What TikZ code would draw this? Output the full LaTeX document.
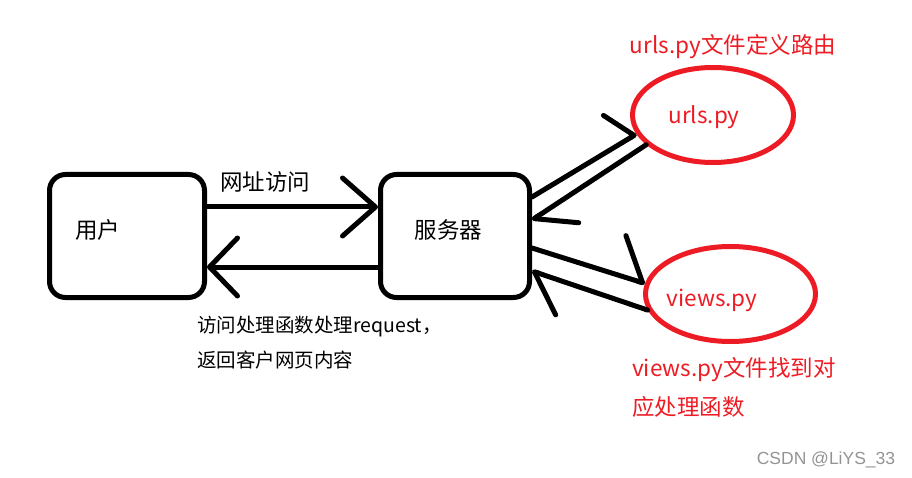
\documentclass[tikz,border=0pt]{standalone}
\usepackage{fontspec}
\setmainfont{Noto Sans CJK SC}
\newfontfamily\wmfont{Liberation Sans}
\usetikzlibrary{shapes.geometric,arrows.meta}
\definecolor{pred}{RGB}{237,28,36}
\begin{document}
\begin{tikzpicture}[
    x=1pt, y=-1pt,
    every node/.style={font=\fontsize{22.5}{27}\selectfont, inner sep=0pt},
    box/.style={
        draw, line width=5pt,
        rounded corners=16pt,
        minimum width=155pt, minimum height=123pt
    },
    filenode/.style={ellipse, draw=pred, line width=5pt},
    flow/.style={line width=5pt, line cap=round},
    redlbl/.style={text=pred},
    notelbl/.style={font=\fontsize{19.5}{35}\selectfont, anchor=west, align=left},
    rednote/.style={text=pred, font=\fontsize{22.5}{39}\selectfont, anchor=west, align=left}
]
\useasboundingbox (0,0) rectangle (912,478);

% =========================================================
% Kaesten: Benutzer und Server
% =========================================================
\node[box] (user) at (127,236) {};
\node (usertxt) at ([xshift=-29.5pt, yshift=6pt]user.center) {用户};

\node[box, minimum width=149pt] (server) at (455,236) {};
\node (servertxt) at ([xshift=-6.5pt, yshift=6pt]server.center) {服务器};

% Anfrage und Antwort
\draw[flow, -{Straight Barb[length=33pt, width=58pt, round]}]
    ([yshift=29pt]user.east) -- ([yshift=29pt]server.west);
\node (req) at (265,182) {网址访问};

\draw[flow, -{Straight Barb[length=28pt, width=58pt, round]}]
    ([yshift=-31pt]server.west) -- ([yshift=-31pt]user.east);
\node[notelbl] (resp) at (197,342.5) {访问处理函数处理request，\\返回客户网页内容};

% =========================================================
% Dateien: urls.py und views.py
% =========================================================
\node[filenode, minimum width=161pt, minimum height=95pt] (urls) at (713,115) {};
\node[redlbl] (urlstxt) at (704,117) {urls.py};
\node[redlbl] (urlsnote) at (733,47) {urls.py文件定义路由};

\node[filenode, minimum width=170pt, minimum height=95pt] (views) at (730.5,294) {};
\node[redlbl] (viewstxt) at (712,300) {views.py};
\node[rednote] (viewsnote) at (632,387.5) {views.py文件找到对\\应处理函数};

% Server <-> Dateien
\draw[flow, -{Straight Barb[left, length=16pt, width=66pt, round]}]
    ([yshift=39pt]server.east) -- (urls.194);
\draw[flow, -{Straight Barb[left, length=35pt, width=56pt, round]}]
    (urls.204) -- ([yshift=16pt]server.east);
\draw[flow, -{Straight Barb[left, length=30pt, width=80pt, round]}]
    ([yshift=-12pt]server.east) -- (views.173);
\draw[flow, -{Straight Barb[left, length=34pt, width=68pt, round]}]
    (views.191) -- ([yshift=-35pt]server.east);

% Wasserzeichen
\node[font=\wmfont\fontsize{17.5}{21}\selectfont, text=black!42] (wm) at (826,460) {CSDN @LiYS\_33};

\end{tikzpicture}
\end{document}
